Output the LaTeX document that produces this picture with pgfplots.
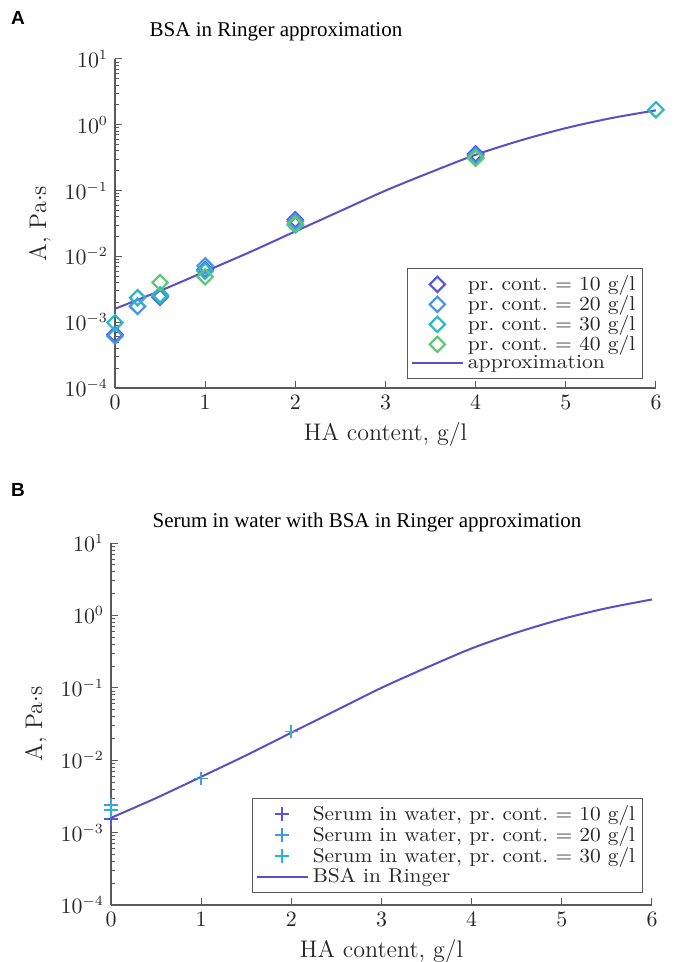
\documentclass[border=0pt]{standalone}
\usepackage{fontspec}
\usepackage{graphicx}
\newfontfamily\tms{Liberation Serif}
\newfontfamily\arl{Liberation Sans}
\usepackage{pgfplots}
\pgfplotsset{compat=1.18}
\definecolor{cA}{RGB}{84,86,222}
\definecolor{cB}{RGB}{70,150,232}
\definecolor{cC}{RGB}{38,186,200}
\definecolor{cD}{RGB}{96,198,118}
\definecolor{cL}{RGB}{92,78,200}
\definecolor{axc}{RGB}{90,90,90}
\newcommand\wA[1]{\scalebox{1.08}[1]{#1}}
\newcommand\wB[1]{\scalebox{1.07}[1]{#1}}
\pgfplotsset{
  legend image code/.code={\draw[mark repeat=2,mark phase=2,#1] plot coordinates {(0cm,0cm) (0.45cm,0cm) (0.9cm,0cm)};},
  dia/.style={only marks, mark=square, mark size=2.7pt, mark options={rotate=45, line width=1.1pt}},
  crs/.style={only marks, mark=+, mark size=3.4pt, mark options={line width=0.9pt}},
}
\begin{document}
\begin{tikzpicture}
\useasboundingbox (0,0) rectangle (340pt,-481pt);
\pgfplotsset{
  every axis/.append style={
    scale only axis, width=270.5pt,
    xmin=0, xmax=6, ymin=1e-4, ymax=10,
    axis x line*=bottom, axis y line*=left, tick align=inside,
    xtick={0,1,2,3,4,5,6},
    ytick={1e-4,1e-3,1e-2,1e-1,1,10},
    minor ytick={2e-4,3e-4,4e-4,5e-4,6e-4,7e-4,8e-4,9e-4,
                 2e-3,3e-3,4e-3,5e-3,6e-3,7e-3,8e-3,9e-3,
                 2e-2,3e-2,4e-2,5e-2,6e-2,7e-2,8e-2,9e-2,
                 0.2,0.3,0.4,0.5,0.6,0.7,0.8,0.9,
                 2,3,4,5,6,7,8,9},
    major tick length=3.5pt, minor tick length=2pt,
    axis line style={draw=axc, line width=0.6pt},
    every tick/.style={axc, line width=0.5pt},
    tick label style={font=\fontsize{10.5}{12}\selectfont, text=black!85},
    label style={font=\fontsize{12}{14}\selectfont, text=black!85},
    xlabel={HA content, g/l},
    ylabel={A, Pa$\cdot$s},
    clip=false,
    legend style={font=\fontsize{10}{11}\selectfont, draw=axc, line width=0.6pt,
      inner sep=1.5pt, cells={anchor=west}, text=black!85},
  }
}
\node[font=\arl\bfseries\fontsize{9.5}{11}\selectfont] at (9pt,-9pt) {A};
\node[font=\tms\fontsize{10.5}{12}\selectfont] at (138pt,-16pt) {BSA in Ringer approximation};
\begin{semilogyaxis}[at={(57.5pt,-194pt)}, anchor=south west, height=164.5pt,
  legend style={at={(0.976,0.027)}, anchor=south east, row sep=-3pt}]
\addplot[dia, color=cA] coordinates {(0,6.5e-4) (0.5,2.4e-3) (1,6.3e-3) (2,3.6e-2) (4,0.36)};
\addlegendentry{\wA{pr.\ cont.\ $=$ 10 g/l}}
\addplot[dia, color=cB] coordinates {(0,6.2e-4) (0.25,1.74e-3) (0.5,2.5e-3) (1,7.2e-3) (2,3.4e-2) (4,0.34)};
\addlegendentry{\wA{pr.\ cont.\ $=$ 20 g/l}}
\addplot[dia, color=cC] coordinates {(0,9.8e-4) (0.25,2.36e-3) (0.5,2.6e-3) (1,6.0e-3) (2,3.0e-2) (4,0.32) (6,1.69)};
\addlegendentry{\wA{pr.\ cont.\ $=$ 30 g/l}}
\addplot[dia, color=cD] coordinates {(0.5,4.0e-3) (1,4.9e-3) (2,3.1e-2) (4,0.31)};
\addlegendentry{\wA{pr.\ cont.\ $=$ 40 g/l}}
\addplot[cL, line width=1pt, smooth, no marks] coordinates {(0,1.6e-3) (0.5,3.0e-3) (1,5.9e-3) (1.5,1.17e-2) (2,2.4e-2) (2.5,4.9e-2) (3,0.10) (3.5,0.19) (4,0.35) (4.5,0.58) (5,0.89) (5.5,1.26) (6,1.66)};
\addlegendentry{\wA{approximation}}
\end{semilogyaxis}
\node[font=\arl\bfseries\fontsize{9.5}{11}\selectfont] at (9pt,-245pt) {B};
\node[font=\tms\fontsize{10.5}{12}\selectfont] at (183.5pt,-261pt) {Serum in water with BSA in Ringer approximation};
\begin{semilogyaxis}[at={(55.5pt,-452.5pt)}, anchor=south west, height=181pt,
  legend style={at={(0.983,0.033)}, anchor=south east, row sep=-2.5pt}]
\addplot[crs, color=cA] coordinates {(0,1.55e-3)};
\addlegendentry{\wB{Serum in water, pr.\ cont.\ $=$ 10 g/l}}
\addplot[crs, color=cB] coordinates {(0,2.4e-3) (1,5.6e-3)};
\addlegendentry{\wB{Serum in water, pr.\ cont.\ $=$ 20 g/l}}
\addplot[crs, color=cC] coordinates {(0,2.05e-3) (2,2.5e-2)};
\addlegendentry{\wB{Serum in water, pr.\ cont.\ $=$ 30 g/l}}
\addplot[cL, line width=1pt, smooth, no marks] coordinates {(0,1.6e-3) (0.5,3.0e-3) (1,5.9e-3) (1.5,1.17e-2) (2,2.4e-2) (2.5,4.9e-2) (3,0.10) (3.5,0.19) (4,0.35) (4.5,0.58) (5,0.89) (5.5,1.26) (6,1.66)};
\addlegendentry{\wB{BSA in Ringer}}
\end{semilogyaxis}
\end{tikzpicture}
\end{document}
